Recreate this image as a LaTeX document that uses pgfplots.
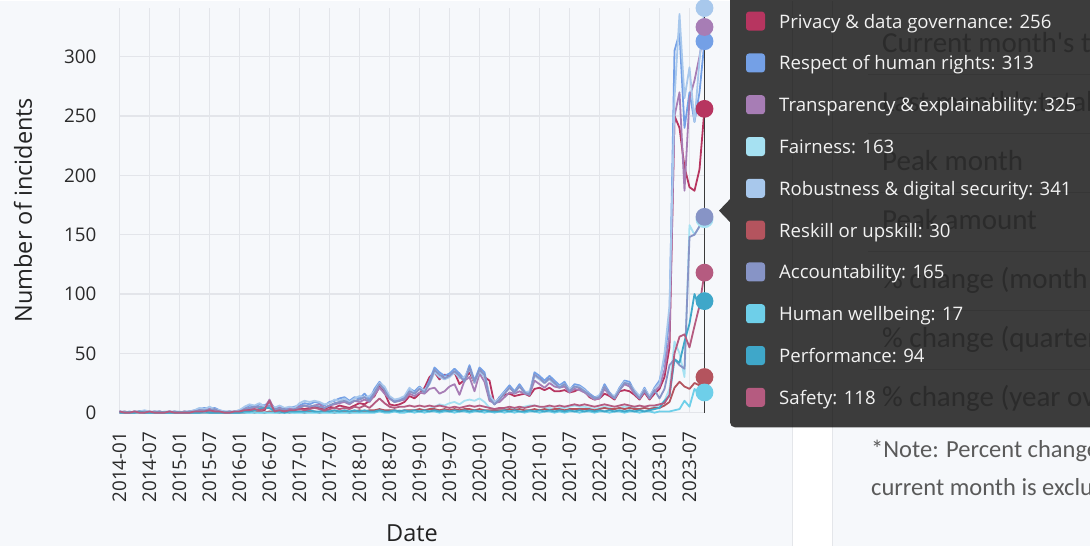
\documentclass[border=0pt]{standalone}
\usepackage{pgfplots}
\pgfplotsset{compat=1.18}
\usepackage{pgfplotstable}
\usepackage{fontspec}
\setmainfont{Open Sans}
\newfontfamily\calfont{Carlito}

\definecolor{bgc}{HTML}{F6F8FB}
\definecolor{gridc}{HTML}{E3E5EA}
\definecolor{panelline}{HTML}{E4E6EA}
\definecolor{tickc}{HTML}{2A2A2A}
\definecolor{titlec}{HTML}{222222}
\definecolor{tipc}{HTML}{3C3C3C}
\definecolor{tiptext}{HTML}{F2F2F2}
\definecolor{paneltext}{HTML}{2B2B2B}
\definecolor{sepc}{HTML}{363636}
\definecolor{notec}{HTML}{5A5A5A}
\definecolor{spikec}{HTML}{3A3A3A}

\definecolor{privc}{HTML}{B73560}
\definecolor{respc}{HTML}{74A0E6}
\definecolor{transc}{HTML}{A77DB5}
\definecolor{fairc}{HTML}{A6E1F2}
\definecolor{robuc}{HTML}{A8C8EC}
\definecolor{reskc}{HTML}{B4545E}
\definecolor{accoc}{HTML}{8794C6}
\definecolor{hwelc}{HTML}{6ECFE9}
\definecolor{perfc}{HTML}{3FA7C9}
\definecolor{safec}{HTML}{B55B80}

\pgfplotstableread{
m priv resp trans fair robu resk acco hwel perf safe
0 0 1 1 0 1 0 1 0 0 1
1 1 0 0 0 1 0 0 0 0 0
2 0 1 0 0 0 0 0 0 0 0
3 0 0 1 0 1 0 1 0 0 1
4 1 1 1 0 1 0 0 0 1 0
5 0 1 0 0 2 0 1 0 0 0
6 0 0 1 0 1 0 0 0 0 1
7 1 1 0 0 1 0 0 0 0 0
8 0 1 1 0 0 0 1 0 0 0
9 0 0 0 0 1 0 0 0 0 0
10 1 1 0 0 1 0 0 0 0 1
11 0 0 1 0 1 0 1 0 0 0
12 0 0 0 0 1 0 0 0 0 0
13 1 1 0 0 0 0 0 0 0 0
14 0 1 1 0 1 0 1 0 0 0
15 1 2 1 0 2 0 1 0 0 1
16 1 3 2 0 4 0 2 0 0 1
17 2 4 2 0 3 0 2 0 1 1
18 1 3 3 0 5 0 2 0 0 2
19 2 4 2 0 3 0 3 0 0 1
20 1 2 1 0 2 0 1 0 0 1
21 0 1 0 0 1 0 0 0 0 0
22 0 1 1 0 0 0 1 0 0 0
23 1 1 0 0 1 0 0 0 0 1
24 1 2 1 0 2 0 1 0 0 1
25 2 4 3 0 5 0 3 0 1 2
26 3 6 4 0 7 1 4 0 1 2
27 2 5 4 1 6 0 5 0 2 3
28 3 7 5 0 8 1 5 0 3 2
29 2 6 4 0 5 0 4 0 4 3
30 8 9 11 1 7 1 6 0 4 10
31 3 4 2 0 4 1 3 0 1 1
32 2 5 4 0 6 0 3 0 1 2
33 3 3 2 0 4 1 3 0 0 1
34 2 4 3 1 5 0 2 0 1 2
35 3 5 4 0 4 1 3 0 1 2
36 4 6 5 1 8 1 4 0 1 3
37 3 8 6 0 10 0 6 0 1 2
38 4 7 5 1 9 1 5 0 2 3
39 5 9 6 1 10 1 6 0 1 4
40 4 8 7 0 9 0 5 0 1 3
41 3 6 4 1 7 1 4 0 2 2
42 5 9 6 1 8 1 6 0 1 3
43 4 10 7 0 11 0 8 0 2 4
44 6 12 8 1 10 1 9 0 1 3
45 5 13 9 1 12 1 10 0 2 4
46 4 10 7 0 9 0 8 0 1 3
47 6 13 10 1 12 1 10 0 2 5
48 8 12 9 2 14 2 11 0 1 4
49 7 16 11 1 13 1 13 0 2 6
50 10 11 9 2 14 2 10 0 1 4
51 14 20 15 1 18 2 17 0 1 8
52 22 26 21 2 25 3 24 1 2 12
53 17 21 16 1 22 2 19 0 1 8
54 7 13 12 2 14 2 12 0 1 5
55 6 10 9 1 11 2 9 1 2 4
56 7 11 10 2 12 1 10 0 1 5
57 9 13 11 1 14 2 12 0 2 5
58 14 20 16 2 21 2 18 1 1 6
59 12 18 14 2 16 2 16 0 2 5
60 16 22 17 3 21 3 20 1 1 6
61 21 18 16 2 19 2 17 0 2 5
62 30 27 20 3 24 3 25 1 1 6
63 34 38 21 5 34 3 36 1 2 5
64 28 34 16 7 30 2 32 0 1 6
65 32 31 18 6 28 3 29 1 2 5
66 31 33 22 8 30 2 31 1 1 4
67 34 37 24 9 34 3 35 0 2 5
68 24 33 15 7 29 2 31 1 1 4
69 28 28 27 10 30 3 26 1 2 5
70 34 40 30 11 37 3 38 0 1 6
71 25 27 18 10 25 2 26 1 2 5
72 37 38 33 12 35 3 36 1 1 6
73 30 34 26 9 30 2 32 0 2 5
74 27 13 10 4 15 2 12 1 1 4
75 7 7 8 3 9 2 7 0 1 3
76 13 13 9 3 12 2 11 1 1 4
77 15 18 13 3 17 2 16 0 2 4
78 16 23 17 4 21 3 21 1 1 5
79 14 18 16 3 17 2 17 0 2 4
80 15 24 18 4 22 3 22 1 1 5
81 16 18 16 5 17 2 17 0 1 4
82 14 16 15 6 18 2 15 1 2 5
83 20 34 27 6 31 3 32 1 1 6
84 21 31 24 5 28 2 29 0 2 5
85 19 27 21 4 25 3 25 1 1 5
86 21 31 25 4 28 2 29 1 2 6
87 18 27 22 3 24 3 25 0 1 5
88 18 23 21 4 22 3 21 1 2 6
89 19 26 22 4 24 2 24 0 1 5
90 17 19 17 5 20 3 18 1 2 6
91 18 24 20 6 22 3 22 1 1 7
92 20 23 19 5 22 3 21 0 2 6
93 18 20 17 5 19 3 18 1 1 7
94 13 16 14 4 15 3 15 1 2 6
95 11 13 11 3 12 2 12 0 1 5
96 12 14 12 4 15 3 13 1 2 6
97 16 24 20 5 22 4 22 1 1 7
98 14 17 15 4 16 3 16 0 2 6
99 11 13 12 3 14 3 12 1 1 5
100 18 21 19 4 20 4 19 1 2 6
101 19 27 24 5 26 3 25 0 1 7
102 18 26 22 5 24 4 24 1 2 6
103 15 18 16 4 19 3 17 1 1 5
104 11 13 12 3 14 3 12 0 2 6
105 17 21 18 4 20 4 19 1 1 5
106 11 13 12 3 14 3 12 1 2 6
107 16 21 18 5 20 4 19 0 3 6
108 20 27 22 6 25 4 12 1 4 7
109 30 45 36 10 50 6 20 1 10 8
110 55 80 65 20 90 9 40 1 14 15
111 250 305 250 60 265 21 45 2 45 50
112 240 320 270 50 336 26 40 3 42 64
113 207 240 187 30 265 22 37 10 60 66
114 190 270 265 158 291 20 148 5 75 55
115 187 245 280 150 245 25 150 20 100 73
116 205 270 300 157 297 23 157 15 88 90
117 256 313 325 163 341 30 165 17 94 118
}\datatable

\newcommand{\tiprow}[3]{%
  \fill[#2, rounded corners=3pt] (746,{524.5-41.8*#1-9.5}) rectangle (765,{524.5-41.8*#1+9.5});
  \node[anchor=base west, inner sep=0pt, text=tiptext, font=\fontsize{18.6}{21}\selectfont] at (779,{517.5-41.8*#1}) {#3};
}
\newcommand{\panelrow}[2]{%
  \node[anchor=base west, inner sep=0pt, text=paneltext, font=\calfont\fontsize{29}{32}\selectfont] at (882,#1) {#2};
}

\begin{document}
\begin{tikzpicture}
\begin{scope}[x=1pt,y=1pt]
\useasboundingbox (0,0) rectangle (1090,545);
\clip (0,0) rectangle (1090,545);
\fill[bgc] (0,0) rectangle (1090,545);
\fill[white] (792,0) rectangle (832,545);
\draw[panelline, line width=1pt] (792,0) -- (792,545);
\draw[panelline, line width=1pt] (832,0) -- (832,545);
\node[anchor=base west, inner sep=0pt, text=notec, font=\calfont\fontsize{24.5}{27}\selectfont] at (871,88) {*Note: Percent change calculations use the last complete month;};
\node[anchor=base west, inner sep=0pt, text=notec, font=\calfont\fontsize{24.5}{27}\selectfont] at (871,50) {current month is excluded from the calculations.};
\end{scope}

\begin{axis}[
  at={(119.5pt,133pt)}, anchor=south west,
  scale only axis, width=585pt, height=405pt,
  xmin=0, xmax=117, ymin=0, ymax=341.3,
  clip=false,
  axis line style={draw=none},
  major tick length=0pt,
  tick style={draw=none},
  grid=major,
  major grid style={draw=gridc, line width=1.3pt},
  xtick={0,6,...,114},
  xticklabels={2014-01,2014-07,2015-01,2015-07,2016-01,2016-07,2017-01,2017-07,2018-01,2018-07,2019-01,2019-07,2020-01,2020-07,2021-01,2021-07,2022-01,2022-07,2023-01,2023-07},
  ytick={0,50,...,300},
  /pgf/number format/assume math mode=true,
  tick label style={font=\fontsize{18.8}{20}\selectfont, text=tickc},
  xticklabel style={rotate=90, anchor=east, inner sep=0pt},
  xticklabel shift=19pt,
  yticklabel style={anchor=east, inner sep=0pt},
  yticklabel shift=23pt,
  xlabel={Date}, ylabel={Number of incidents},
  every axis x label/.style={at={(axis description cs:0.5,-0.2988)}, anchor=center, font=\fontsize{23.5}{25}\selectfont, text=titlec},
  every axis y label/.style={at={(axis description cs:-0.1650,0.5)}, anchor=center, rotate=90, font=\fontsize{23.5}{25}\selectfont, text=titlec},
  every axis plot/.append style={line width=1.8pt, line join=round},
]
\addplot[privc, no marks] table[x=m, y=priv] {\datatable};
\addplot[respc, no marks] table[x=m, y=resp] {\datatable};
\addplot[transc, no marks] table[x=m, y=trans] {\datatable};
\addplot[fairc, no marks] table[x=m, y=fair] {\datatable};
\addplot[robuc, no marks] table[x=m, y=robu] {\datatable};
\addplot[reskc, no marks] table[x=m, y=resk] {\datatable};
\addplot[accoc, no marks] table[x=m, y=acco] {\datatable};
\addplot[hwelc, no marks] table[x=m, y=hwel] {\datatable};
\addplot[perfc, no marks] table[x=m, y=perf] {\datatable};
\addplot[safec, no marks] table[x=m, y=safe] {\datatable};
\draw[spikec, line width=1.6pt] (axis cs:117,0) -- (axis cs:117,341.3);
\addplot[privc, only marks, mark=*, mark size=8pt, mark indices={118}] table[x=m, y=priv] {\datatable};
\addplot[respc, only marks, mark=*, mark size=8pt, mark indices={118}] table[x=m, y=resp] {\datatable};
\addplot[transc, only marks, mark=*, mark size=8pt, mark indices={118}] table[x=m, y=trans] {\datatable};
\addplot[fairc, only marks, mark=*, mark size=8pt, mark indices={118}] table[x=m, y=fair] {\datatable};
\addplot[robuc, only marks, mark=*, mark size=8pt, mark indices={118}] table[x=m, y=robu] {\datatable};
\addplot[reskc, only marks, mark=*, mark size=8pt, mark indices={118}] table[x=m, y=resk] {\datatable};
\addplot[accoc, only marks, mark=*, mark size=8pt, mark indices={118}] table[x=m, y=acco] {\datatable};
\addplot[hwelc, only marks, mark=*, mark size=8pt, mark indices={118}] table[x=m, y=hwel] {\datatable};
\addplot[perfc, only marks, mark=*, mark size=8pt, mark indices={118}] table[x=m, y=perf] {\datatable};
\addplot[safec, only marks, mark=*, mark size=8pt, mark indices={118}] table[x=m, y=safe] {\datatable};
\end{axis}

\begin{scope}[x=1pt,y=1pt]
\clip (0,0) rectangle (1090,545);
% tooltip box
\fill[tipc, rounded corners=5pt] (730,118.3) rectangle (1110,565);
\fill[tipc] (730.5,347) -- (719,335) -- (730.5,323) -- cycle;
% panel separators seen through tooltip
\foreach \yy in {471,412,353,294,235,176} {
  \draw[sepc, line width=1pt] (868,\yy) -- (1090,\yy);
}
\draw[sepc, line width=1pt] (792,118.3) -- (792,545);
\draw[sepc, line width=1pt] (832,118.3) -- (832,545);
\panelrow{493}{Current month's total}
\panelrow{434}{Last month's total}
\panelrow{375}{Peak month}
\panelrow{316}{Peak amount}
\panelrow{257}{\% change (month over month)}
\panelrow{198}{\% change (quarter over quarter)}
\panelrow{139}{\% change (year over year)}
% tooltip rows
\tiprow{0}{privc}{Privacy \& data governance: 256}
\tiprow{1}{respc}{Respect of human rights: 313}
\tiprow{2}{transc}{Transparency \& explainability: 325}
\tiprow{3}{fairc}{Fairness: 163}
\tiprow{4}{robuc}{Robustness \& digital security: 341}
\tiprow{5}{reskc}{Reskill or upskill: 30}
\tiprow{6}{accoc}{Accountability: 165}
\tiprow{7}{hwelc}{Human wellbeing: 17}
\tiprow{8}{perfc}{Performance: 94}
\tiprow{9}{safec}{Safety: 118}
\end{scope}
\end{tikzpicture}
\end{document}
